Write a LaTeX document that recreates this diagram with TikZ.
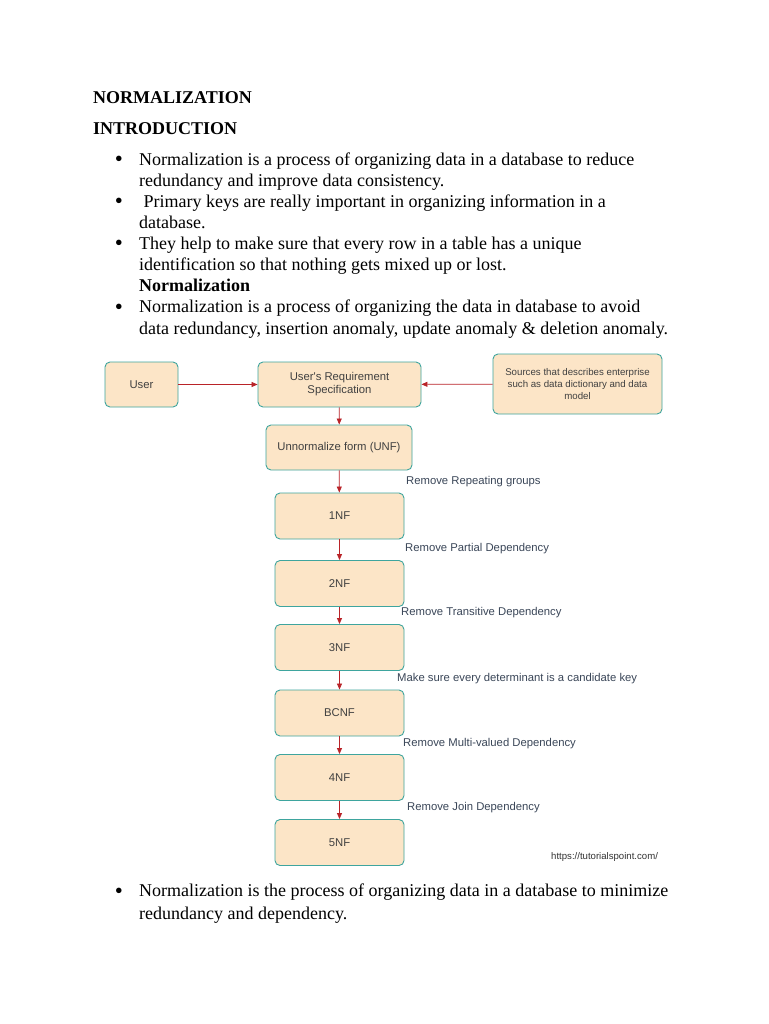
\documentclass[tikz,border=0pt]{standalone}
\usepackage{fontspec}
\setmainfont{Liberation Serif}
\newfontfamily\diagfont{Liberation Sans}
\usetikzlibrary{arrows.meta}
\definecolor{boxfill}{RGB}{252,229,199}
\definecolor{boxline}{RGB}{62,165,158}
\definecolor{flow}{RGB}{185,35,40}
\definecolor{note}{RGB}{58,70,88}
\tikzset{
    % body text of the page
    para/.style={
        anchor=base west,
        inner sep=0pt,
        font=\fontsize{18}{21}\selectfont,
    },
    head/.style={
        para,
        font=\fontsize{18}{21}\selectfont\bfseries,
    },
    dot/.style={
        para,
        anchor=base,
        font=\fontsize{23}{21}\selectfont,
    },
    % diagram boxes
    base/.style={
        draw=boxline,
        fill=boxfill,
        line width=0.9pt,
        rounded corners=5pt,
        text=black!75,
        align=center,
        inner sep=0pt,
        font=\diagfont\fontsize{11.3}{13}\selectfont,
    },
    % User
    U/.style={
        base,
        minimum width=73pt,
        minimum height=45pt,
    },
    % Requirement specification
    RS/.style={
        base,
        minimum width=163pt,
        minimum height=45pt,
    },
    % Data sources
    S/.style={
        base,
        minimum width=169pt,
        minimum height=60pt,
        font=\diagfont\fontsize{9.7}{11.6}\selectfont,
    },
    % Unnormalized form
    UNF/.style={
        base,
        minimum width=146pt,
        minimum height=45pt,
    },
    % Normal form
    NF/.style={
        base,
        minimum width=129pt,
        minimum height=46pt,
    },
    % step label
    lbl/.style={
        anchor=west,
        inner sep=0pt,
        text=note,
        font=\diagfont\fontsize{11.3}{13}\selectfont,
    },
    flowarrow/.style={
        draw=flow,
        line width=0.8pt,
        -{Triangle[length=6pt,width=5pt]},
    },
}
\begin{document}
\begin{tikzpicture}[x=1pt,y=-1pt]
    \fill[white] (0,0) rectangle (768,1024);
    \useasboundingbox (0,0) rectangle (768,1024);

    % Headings
    \node[head] (title) at (93,104) {NORMALIZATION};
    \node[head] (intro) at (93,135) {INTRODUCTION};

    % Bullets
    \node[dot] (d1) at (119,167) {\textbullet};
    \node[para] (l1) at (139,165.5) {Normalization is a process of organizing data in a database to reduce};
    \node[para] (l2) at (139,186.5) {redundancy and improve data consistency.};
    \node[dot] (d2) at (119,209) {\textbullet};
    \node[para] (l3) at (139,207.5) {\ Primary keys are really important in organizing information in a};
    \node[para] (l4) at (139,228.5) {database.};
    \node[dot] (d3) at (119,251) {\textbullet};
    \node[para] (l5) at (139,249.5) {They help to make sure that every row in a table has a unique};
    \node[para] (l6) at (139,270.5) {identification so that nothing gets mixed up or lost.};
    \node[head] (sub) at (139,291.5) {Normalization};
    \node[dot] (d4) at (119,314) {\textbullet};
    \node[para] (l7) at (139,312.5) {Normalization is a process of organizing the data in database to avoid};
    \node[para] (l8) at (139,334) {data redundancy, insertion anomaly, update anomaly \& deletion anomaly.};

    % Diagram
    \node[U] (user) at (141.5,384.5) {User};
    \node[RS] (urs) at (339.5,384.5) {User's Requirement\\Specification};
    \node[S] (src) at (577.5,384) {Sources that describes enterprise\\such as data dictionary and data\\model};
    \node[UNF] (unf) at (339,447.5) {Unnormalize form (UNF)};
    \node[NF] (nf1) at (339.5,516) {1NF};
    \node[NF] (nf2) at (339.5,583.5) {2NF};
    \node[NF] (nf3) at (339.5,647.5) {3NF};
    \node[NF] (bcnf) at (339.5,713) {BCNF};
    \node[NF] (nf4) at (339.5,777.5) {4NF};
    \node[NF] (nf5) at (339.5,842.5) {5NF};

    \draw[flowarrow] (user) -- (urs);
    \draw[flowarrow] (src) -- (urs);
    \draw[flowarrow] (urs) -- (unf);
    \draw[flowarrow] (unf) -- (nf1);
    \draw[flowarrow] (nf1) -- (nf2);
    \draw[flowarrow] (nf2) -- (nf3);
    \draw[flowarrow] (nf3) -- (bcnf);
    \draw[flowarrow] (bcnf) -- (nf4);
    \draw[flowarrow] (nf4) -- (nf5);

    % Step labels
    \node[lbl] (s1) at (406,481.5) {Remove Repeating groups};
    \node[lbl] (s2) at (405,549) {Remove Partial Dependency};
    \node[lbl] (s3) at (401,613) {Remove Transitive Dependency};
    \node[lbl] (s4) at (397,678.5) {Make sure every determinant is a candidate key};
    \node[lbl] (s5) at (403,743.5) {Remove Multi-valued Dependency};
    \node[lbl] (s6) at (407,807.5) {Remove Join Dependency};
    \node[lbl,text=black!80,font=\diagfont\fontsize{9.6}{11}\selectfont] (url) at (551,857) {https://tutorialspoint.com/};

    % Closing bullet
    \node[dot] (d5) at (119,898) {\textbullet};
    \node[para] (l9) at (139,896.5) {Normalization is the process of organizing data in a database to minimize};
    \node[para] (l10) at (139,919.5) {redundancy and dependency.};
\end{tikzpicture}
\end{document}
